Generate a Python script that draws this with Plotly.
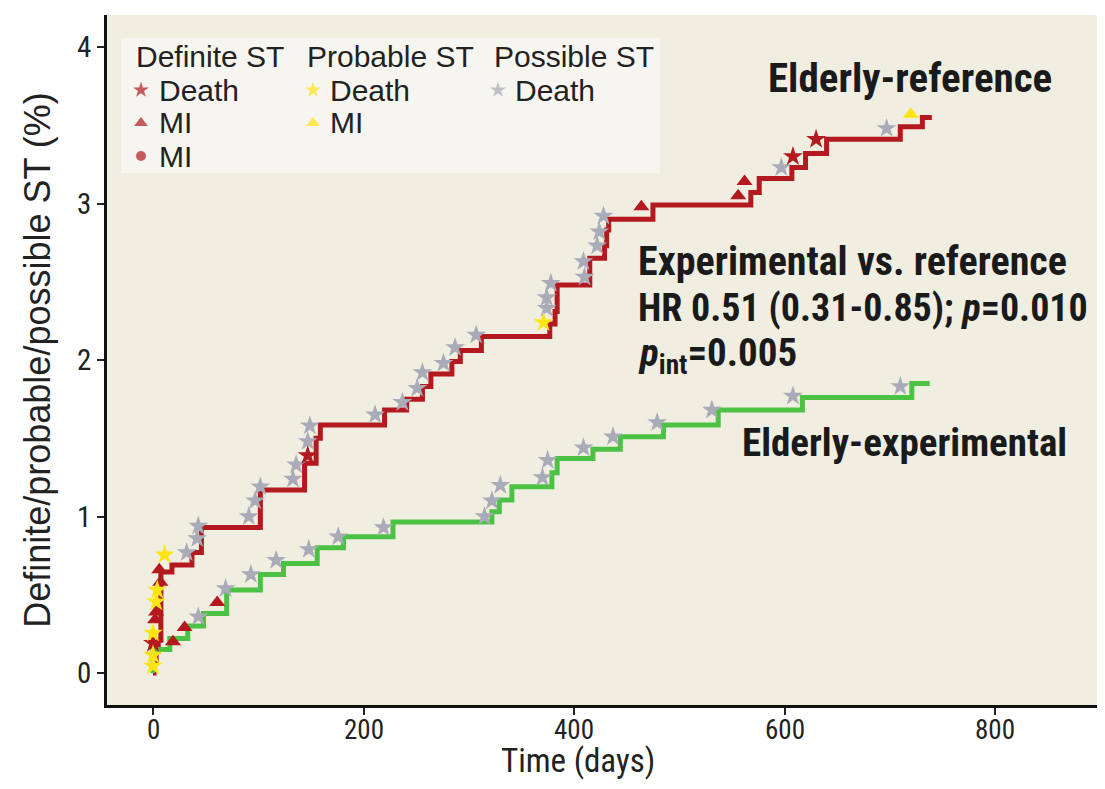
import plotly.graph_objects as go

# ---- Step curves (cumulative incidence, %) ----
ref_days = [0, 1, 3, 5, 7.5, 18, 37, 46, 102, 144, 155, 159, 220, 241, 256, 264, 284, 292, 312,
            377, 382, 384, 415, 429, 431, 433, 475, 568, 576, 607, 620, 640, 710, 731, 740]
ref_vals = [0, 0.07, 0.14, 0.21, 0.645, 0.69, 0.77, 0.93, 1.17, 1.34, 1.50, 1.585, 1.68, 1.75, 1.83, 1.91, 1.99, 2.06, 2.15,
            2.23, 2.31, 2.48, 2.65, 2.73, 2.83, 2.90, 2.99, 3.07, 3.16, 3.23, 3.32, 3.41, 3.49, 3.55, 3.55]

exp_days = [0, 0, 16, 33, 48, 70, 102, 124, 156, 181, 228, 322, 329, 341, 379, 384, 418, 444, 485, 537, 617, 721, 738]
exp_vals = [0, 0.15, 0.22, 0.30, 0.38, 0.53, 0.63, 0.70, 0.80, 0.87, 0.965, 1.03, 1.105, 1.19, 1.28, 1.37, 1.43, 1.51,
            1.585, 1.68, 1.76, 1.85, 1.85]

# ---- Event markers ----
def_death_days = [0, 147, 608, 630]
def_death_vals = [0.19, 1.39, 3.30, 3.41]

def_mi_days = [2, 3, 7, 6, 464, 556, 562, 19, 30, 61]
def_mi_vals = [0.34, 0.39, 0.58, 0.66, 2.98, 3.05, 3.14, 0.20, 0.29, 0.45]

prob_death_days = [0, 0, 0, 3, 4, 11, 371]
prob_death_vals = [0.045, 0.115, 0.255, 0.455, 0.53, 0.755, 2.24]

prob_mi_days = [720]
prob_mi_vals = [3.57]

poss_death_days = [32, 42, 43, 91, 97, 102, 133, 136, 147, 149, 211, 237, 251, 256, 276, 287, 307, 374, 374, 378,
                   410, 409, 422, 424, 428, 597, 697,
                   43, 69, 93, 117, 148, 176, 219, 315, 322, 330, 370, 375, 409, 437, 479, 531, 608, 710]
poss_death_vals = [0.77, 0.86, 0.94, 1.00, 1.10, 1.19, 1.24, 1.33, 1.48, 1.58, 1.65, 1.73, 1.82, 1.92, 1.98, 2.08, 2.16,
                   2.33, 2.40, 2.49, 2.53, 2.63, 2.73, 2.82, 2.92, 3.23, 3.48,
                   0.36, 0.54, 0.63, 0.72, 0.79, 0.87, 0.93, 1.00, 1.10, 1.20, 1.25, 1.36, 1.44, 1.51, 1.60, 1.68,
                   1.77, 1.83]

x_ticks = [0, 200, 400, 600, 800]
x_tick_labels = ["0", "200", "400", "600", "800"]
y_ticks = [0, 1, 2, 3, 4]

RED = "#B3191E"
GREEN = "#4CC244"
YELLOW = "#FFE414"
GRAY = "#A9ABB8"
COND = "Roboto Condensed, DejaVu Sans Condensed, Roboto, Liberation Sans, sans-serif"
SANS = "Liberation Sans, Arial, sans-serif"

fig = go.Figure()

fig.add_trace(go.Scatter(x=ref_days, y=ref_vals, mode="lines", line=dict(color=RED, width=5, shape="hv"),
                         showlegend=False, hoverinfo="skip"))
fig.add_trace(go.Scatter(x=exp_days, y=exp_vals, mode="lines", line=dict(color=GREEN, width=5, shape="hv"),
                         showlegend=False, hoverinfo="skip"))

mk = dict(size=15, line=dict(width=0))
fig.add_trace(go.Scatter(x=poss_death_days, y=poss_death_vals, mode="markers",
                         marker=dict(symbol="star", color=GRAY, **mk), showlegend=False))
fig.add_trace(go.Scatter(x=def_mi_days, y=def_mi_vals, mode="markers",
                         marker=dict(symbol="triangle-up", color=RED, size=14, line=dict(width=0)), showlegend=False))
fig.add_trace(go.Scatter(x=def_death_days, y=def_death_vals, mode="markers",
                         marker=dict(symbol="star", color=RED, **mk), showlegend=False))
fig.add_trace(go.Scatter(x=prob_death_days, y=prob_death_vals, mode="markers",
                         marker=dict(symbol="star", color=YELLOW, **mk), showlegend=False))
fig.add_trace(go.Scatter(x=prob_mi_days, y=prob_mi_vals, mode="markers",
                         marker=dict(symbol="triangle-up", color=YELLOW, size=14, line=dict(width=0)), showlegend=False))

# The page body adds an 8 px offset; figure sized so the page does not scroll.
OFF = 8
W, H = 1089, 773
PL, PR, PT, PB = 107, 1097, 15, 705   # plot area edges as seen on screen

# ---- Custom legend (pixel-positioned overlay axes) ----
leg_sym_x = [141, 141, 141, 313, 313, 498]
leg_sym_y = [90, 123, 156, 90, 123, 90]
leg_sym = ["star", "triangle-up", "circle", "star", "triangle-up", "star"]
leg_col = [RED, RED, RED, YELLOW, YELLOW, GRAY]
fig.add_trace(go.Scatter(x=leg_sym_x, y=leg_sym_y, xaxis="x2", yaxis="y2", mode="markers",
                         marker=dict(symbol=leg_sym, color=leg_col, size=[12, 12, 10, 12, 12, 12], line=dict(width=0)),
                         showlegend=False, hoverinfo="skip"))


def px(xp):
    return (xp - PL) / (PR - PL)


def py(yp):
    return (PB - yp) / (PB - PT)


annotations = []
leg_font = dict(family=SANS, size=30, color="#222")
leg_headers = [("Definite ST", 134), ("Probable ST", 305), ("Possible ST", 492)]
for txt, xp in leg_headers:
    annotations.append(dict(text=txt, x=px(xp), y=py(57), xref="paper", yref="paper", xanchor="left",
                            yanchor="middle", showarrow=False, font=leg_font))
leg_items = [("Death", 157, 90), ("MI", 157, 123), ("MI", 157, 156), ("Death", 328, 90), ("MI", 328, 123),
             ("Death", 513, 90)]
for txt, xp, yp in leg_items:
    annotations.append(dict(text=txt, x=px(xp), y=py(yp), xref="paper", yref="paper", xanchor="left",
                            yanchor="middle", showarrow=False, font=leg_font))

bold = dict(family=COND, size=38, color="#1a1a1a")
annotations += [
    dict(text="<b>Elderly-reference</b>", x=582, y=3.80, xanchor="left", yanchor="middle", showarrow=False,
         font=dict(family=COND, size=41, color="#1a1a1a")),
    dict(text="<b>Experimental vs. reference</b>", x=459, y=2.63, xanchor="left", yanchor="middle",
         showarrow=False, font=dict(family=COND, size=40, color="#1a1a1a")),
    dict(text="<b>HR 0.51 (0.31-0.85); <i>p</i>=0.010</b>", x=459, y=2.33, xanchor="left", yanchor="middle",
         showarrow=False, font=bold),
    dict(text="<b><i>p</i><sub>int</sub>=0.005</b>", x=459, y=2.03, xanchor="left", yanchor="middle",
         showarrow=False, font=dict(family=COND, size=39, color="#1a1a1a")),
    dict(text="<b>Elderly-experimental</b>", x=558, y=1.47, xanchor="left", yanchor="middle", showarrow=False,
         font=dict(family=COND, size=39, color="#1a1a1a")),
    # x-axis title, pinned to the bottom edge of the figure
    dict(text="Time (days)", x=px(578), y=-(H - (PB - OFF)) / (PB - PT), xref="paper", yref="paper",
         xanchor="center", yanchor="bottom", showarrow=False, borderpad=0,
         font=dict(family=COND, size=33, color="#222")),
]
# x tick labels placed on the x scale just under the tick marks
for t, lab in zip(x_ticks, x_tick_labels):
    annotations.append(dict(text=lab, x=t, xref="x", y=py(713), yref="paper", xanchor="center", yanchor="top",
                            showarrow=False, borderpad=0, font=dict(family=COND, size=27, color="#222")))

shapes = [dict(type="rect", xref="paper", yref="paper", x0=px(121), x1=px(660), y0=py(173), y1=py(38),
               fillcolor="#F6F5EF", line=dict(width=0), layer="below")]

fig.update_layout(
    width=W, height=H,
    margin=dict(l=PL - OFF, r=W - (PR - OFF), t=PT - OFF, b=H - (PB - OFF), autoexpand=False),
    paper_bgcolor="white",
    plot_bgcolor="#F0EEE1",
    showlegend=False,
    annotations=annotations,
    shapes=shapes,
    xaxis=dict(range=[(PL - 153) / 1.0525, (PR - 153) / 1.0525], tickvals=x_ticks, ticks="outside", ticklen=7,
               tickwidth=1.5, tickcolor="#222", showline=True, linewidth=2.5, linecolor="#111", showgrid=False,
               zeroline=False, automargin=False, showticklabels=False),
    yaxis=dict(range=[(673 - PB) / 156.5, (673 - PT) / 156.5], tickvals=y_ticks, ticks="outside", ticklen=7,
               tickwidth=1.5, tickcolor="#222", showline=True, linewidth=2.5, linecolor="#111", showgrid=False,
               zeroline=False, automargin=False, tickfont=dict(family=COND, size=29, color="#222"),
               title=dict(text="Definite/probable/possible ST (%)", font=dict(family=SANS, size=36, color="#222"),
                          standoff=16)),
    xaxis2=dict(range=[PL, PR], overlaying="x", visible=False, fixedrange=True, automargin=False),
    yaxis2=dict(range=[PB, PT], overlaying="y", visible=False, fixedrange=True, automargin=False),
)

fig.write_html("out.html")
